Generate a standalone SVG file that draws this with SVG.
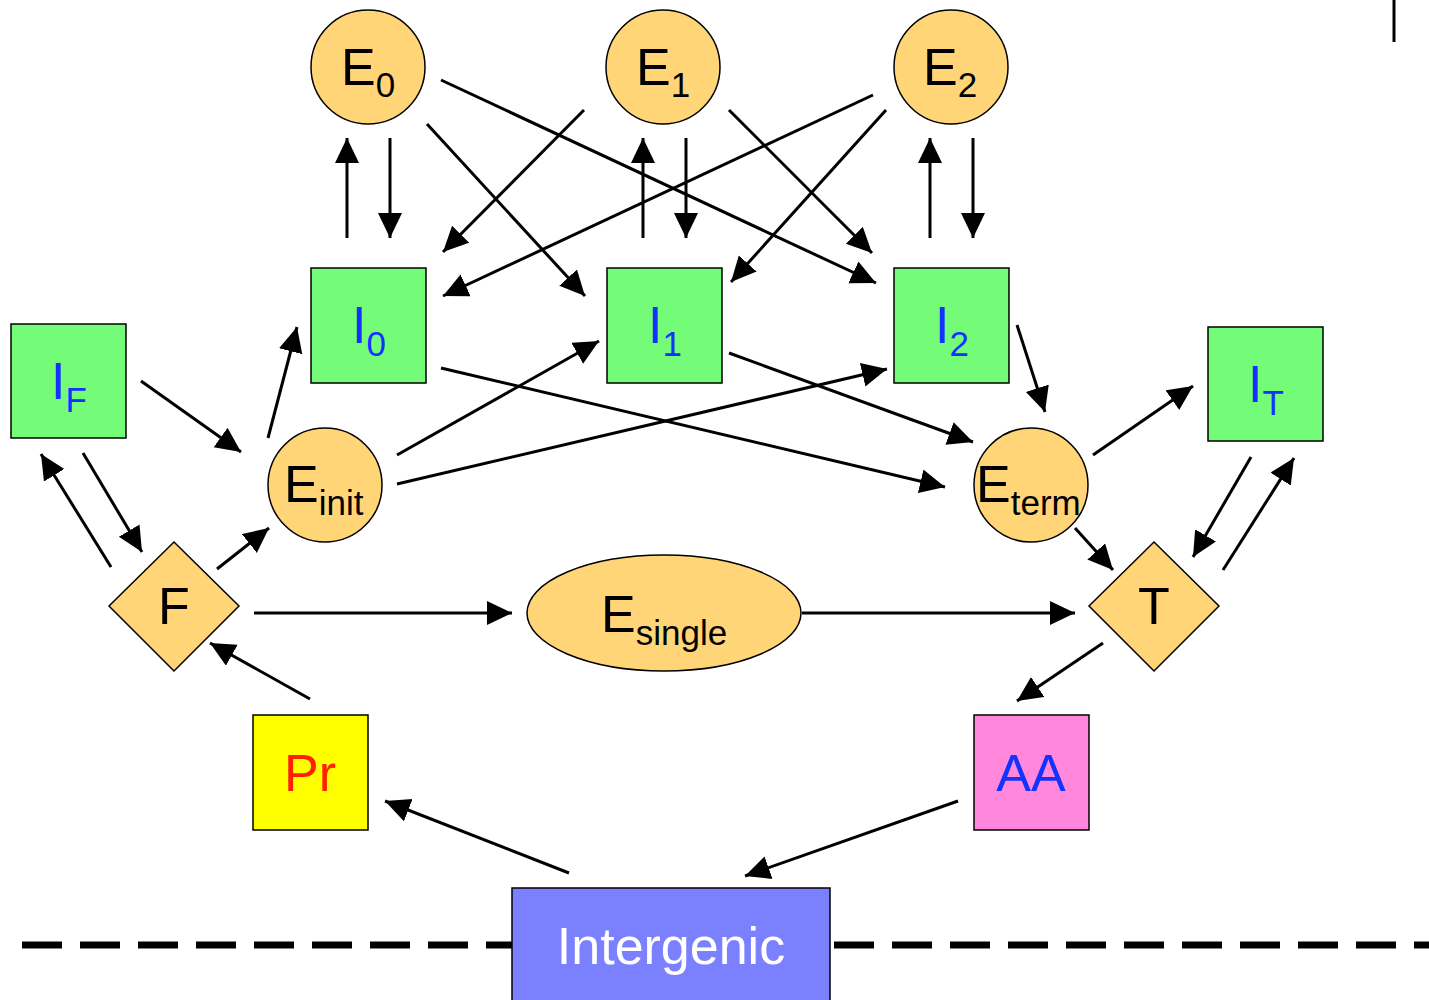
<svg xmlns="http://www.w3.org/2000/svg" width="1429" height="1000" viewBox="0 0 1429 1000">
<defs>
<marker id="ah" markerUnits="userSpaceOnUse" markerWidth="26" markerHeight="26" refX="25" refY="12" orient="auto"><path d="M0,0 L25,12 L0,24 z" fill="#000"/></marker>
<style>
.c{fill:#FFD578;stroke:#000;stroke-width:1.5}
.g{fill:#74FC78;stroke:#000;stroke-width:1.5}
.t{font-family:"Liberation Sans",Arial,sans-serif;font-size:52px;fill:#000}
.s{font-size:35px}
.b{fill:#1432FF}
.e line{stroke:#000;stroke-width:3;marker-end:url(#ah)}
</style>
</defs>
<rect width="1429" height="1000" fill="#fff"/>
<line x1="22" y1="945" x2="1429" y2="945" stroke="#000" stroke-width="7" stroke-dasharray="40 18"/>
<line x1="1394" y1="0" x2="1394" y2="42" stroke="#000" stroke-width="3"/>
<g class="e">
<line x1="347" y1="238" x2="347" y2="138"/>
<line x1="390" y1="138" x2="390" y2="238"/>
<line x1="643" y1="238" x2="643" y2="138"/>
<line x1="686" y1="138" x2="686" y2="238"/>
<line x1="930" y1="238" x2="930" y2="138"/>
<line x1="973" y1="138" x2="973" y2="238"/>
<line x1="427" y1="124" x2="585" y2="296"/>
<line x1="441" y1="80" x2="876" y2="283"/>
<line x1="584" y1="110" x2="443" y2="252"/>
<line x1="873" y1="95" x2="443" y2="296"/>
<line x1="886" y1="110" x2="731" y2="282"/>
<line x1="729" y1="110" x2="872" y2="253"/>
<line x1="141" y1="381" x2="241" y2="452"/>
<line x1="268" y1="438" x2="297" y2="327"/>
<line x1="397" y1="455" x2="599" y2="341"/>
<line x1="397" y1="484" x2="887" y2="369"/>
<line x1="441" y1="368" x2="945" y2="487"/>
<line x1="729" y1="353" x2="973" y2="442"/>
<line x1="1017" y1="325" x2="1045" y2="412"/>
<line x1="1093" y1="455" x2="1193" y2="386"/>
<line x1="1075" y1="528" x2="1113" y2="570"/>
<line x1="1251" y1="457" x2="1193" y2="557"/>
<line x1="1223" y1="570" x2="1294" y2="458"/>
<line x1="1103" y1="643" x2="1017" y2="701"/>
<line x1="958" y1="801" x2="745" y2="876"/>
<line x1="569" y1="873" x2="385" y2="801"/>
<line x1="310" y1="699" x2="210" y2="643"/>
<line x1="111" y1="567" x2="41" y2="454"/>
<line x1="83" y1="453" x2="142" y2="552"/>
<line x1="217" y1="569" x2="269" y2="528"/>
<line x1="254" y1="613" x2="512" y2="613"/>
<line x1="802" y1="613" x2="1075" y2="613"/>
</g>
<g id="E0"><circle class="c" cx="368" cy="67" r="57"/><text class="t" x="341" y="85">E<tspan class="s" dy="12">0</tspan></text></g>
<g id="E1"><circle class="c" cx="663" cy="67" r="57"/><text class="t" x="636" y="85">E<tspan class="s" dy="12">1</tspan></text></g>
<g id="E2"><circle class="c" cx="951" cy="67" r="57"/><text class="t" x="923" y="85">E<tspan class="s" dy="12">2</tspan></text></g>
<g id="I0"><rect class="g" x="311" y="268" width="115" height="115"/><text class="t b" x="352" y="343">I<tspan class="s" dy="13">0</tspan></text></g>
<g id="I1"><rect class="g" x="607" y="268" width="115" height="115"/><text class="t b" x="648" y="343">I<tspan class="s" dy="13">1</tspan></text></g>
<g id="I2"><rect class="g" x="894" y="268" width="115" height="115"/><text class="t b" x="935" y="343">I<tspan class="s" dy="13">2</tspan></text></g>
<g id="IF"><rect class="g" x="11" y="324" width="115" height="114"/><text class="t b" x="51" y="399">I<tspan class="s" dy="13">F</tspan></text></g>
<g id="IT"><rect class="g" x="1208" y="327" width="115" height="114"/><text class="t b" x="1248" y="402">I<tspan class="s" dy="13">T</tspan></text></g>
<g id="Einit"><circle class="c" cx="325" cy="485" r="57"/><text class="t" x="284" y="502">E<tspan class="s" dy="13">init</tspan></text></g>
<g id="Eterm"><circle class="c" cx="1031" cy="485" r="57"/><text class="t" x="976" y="502">E<tspan class="s" dy="13">term</tspan></text></g>
<g id="F"><polygon class="c" points="174,542 239,606 174,671 109,606"/><text class="t" x="174" y="624" text-anchor="middle">F</text></g>
<g id="T"><polygon class="c" points="1154,542 1219,606 1154,671 1089,606"/><text class="t" x="1154" y="624" text-anchor="middle">T</text></g>
<g id="Esingle"><ellipse class="c" cx="664" cy="613" rx="137" ry="58"/><text class="t" x="601" y="632">E<tspan class="s" dy="13">single</tspan></text></g>
<g id="Pr"><rect x="253" y="715" width="115" height="115" fill="#FFFF00" stroke="#000" stroke-width="1.5"/><text class="t" x="310" y="791" text-anchor="middle" fill="#FF2000" style="fill:#FF2000">Pr</text></g>
<g id="AA"><rect x="974" y="715" width="115" height="115" fill="#FF88DD" stroke="#000" stroke-width="1.5"/><text class="t b" x="1031" y="791" text-anchor="middle">AA</text></g>
<g id="Intergenic"><rect x="512" y="888" width="318" height="120" fill="#7B80FF" stroke="#000" stroke-width="1.5"/><text class="t" x="671" y="964" text-anchor="middle" style="fill:#fff">Intergenic</text></g>
</svg>
